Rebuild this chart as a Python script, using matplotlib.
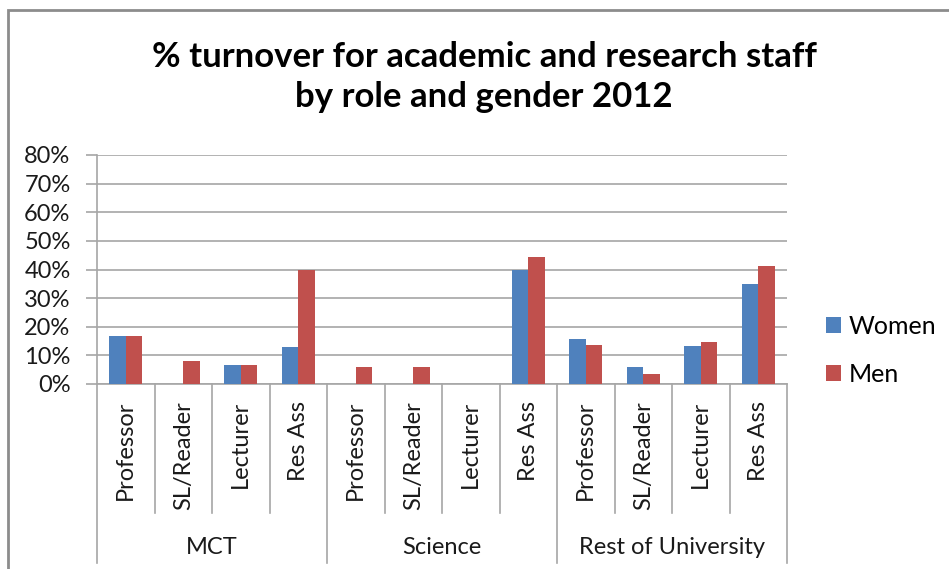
import numpy as np
import matplotlib.pyplot as plt
from matplotlib import transforms
from matplotlib.patches import Rectangle

# turnover %, one value per role within each group
groups = ['MCT', 'Science', 'Rest of University']
roles = ['Professor', 'SL/Reader', 'Lecturer', 'Res Ass']
women = [16.7, 0, 6.7, 12.8, 0, 0, 0, 40.0, 15.8, 5.8, 13.4, 35.0]
men = [16.7, 8.0, 6.7, 40.0, 5.9, 5.9, 0, 44.2, 13.5, 3.5, 14.8, 41.2]
yticks = [0, 10, 20, 30, 40, 50, 60, 70, 80]

BLUE = '#4F81BD'
RED = '#C0504D'
GRID = '#A6A6A6'
W, H = 949, 569

plt.rcParams['font.family'] = ['Lato', 'DejaVu Sans']

fig = plt.figure(figsize=(W / 100, H / 100), dpi=100)
fy = lambda py: 1 - py / H
fx = lambda px: px / W

# outer chart frame (runs past the right and bottom edges)
fig.patches.append(Rectangle((fx(8), fy(H + 20)), 1.2, fy(10) - fy(H + 20),
                             transform=fig.transFigure, fill=False,
                             edgecolor='#8C8C8C', lw=2))

ax = fig.add_axes([fx(97), fy(384), fx(787) - fx(97), fy(155) - fy(384)])

n = len(women)
x = np.arange(n)
bw = 0.286
ax.bar(x - bw / 2, women, bw, color=BLUE, label='Women', zorder=3)
ax.bar(x + bw / 2, men, bw, color=RED, label='Men', zorder=3)

ax.set_xlim(-0.5, n - 0.5)
ax.set_ylim(0, 80)
ax.set_yticks(yticks)
ax.set_yticklabels([f'{t}%' for t in yticks], fontsize=17, color='#1A1A1A')
ax.yaxis.grid(True, color=GRID, lw=1.2, zorder=0)
ax.tick_params(axis='y', length=8, color=GRID, width=1.2, pad=11)
ax.set_xticks([])
for s in ['top', 'right']:
    ax.spines[s].set_visible(False)
for s in ['left', 'bottom']:
    ax.spines[s].set_color(GRID)
    ax.spines[s].set_linewidth(1.2)

# two-level category axis below the plot
tr = transforms.blended_transform_factory(ax.transData, fig.transFigure)
for i in range(n + 1):
    bottom = 563 if i % len(roles) == 0 else 513
    ax.plot([i - 0.5, i - 0.5], [fy(384), fy(bottom)], color=GRID, lw=1.2,
            transform=tr, clip_on=False)
for i in range(n):
    ax.text(i, fy(401), roles[i % len(roles)], rotation=90, ha='center',
            va='top', fontsize=17, color='#1A1A1A', transform=tr)
for g, name in enumerate(groups):
    cx = g * len(roles) + (len(roles) - 1) / 2
    ax.text(cx, fy(547), name, ha='center', va='center', fontsize=17,
            color='#1A1A1A', transform=tr)

fig.text(fx(484), fy(77), '% turnover for academic and research staff\nby role and gender 2012',
         ha='center', va='center', fontsize=25, fontweight='bold',
         linespacing=1.32, color='#000000')

fig.legend(*ax.get_legend_handles_labels(), loc='center left',
           bbox_to_anchor=(fx(826), fy(350)), frameon=False, fontsize=18,
           handlelength=0.6, handleheight=0.6, handletextpad=0.3,
           labelspacing=1.0, borderpad=0, borderaxespad=0)

fig.savefig('out.png', dpi=100)
